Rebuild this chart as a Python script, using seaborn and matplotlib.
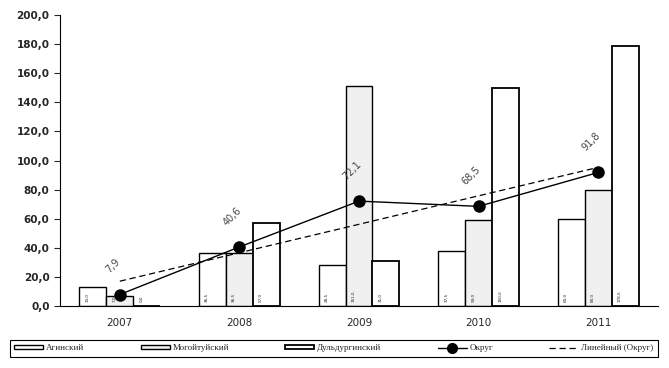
import numpy as np
import pandas as pd
import matplotlib
matplotlib.use("Agg")
import matplotlib.pyplot as plt
import seaborn as sns
from matplotlib.patches import Patch
from matplotlib.lines import Line2D
from matplotlib.ticker import FuncFormatter

years = ["2007", "2008", "2009", "2010", "2011"]
districts = ["Агинский", "Могойтуйский", "Дульдургинский"]
aginsky = [13.0, 36.5, 28.5, 37.5, 60.0]
mogoytuy = [7.0, 36.5, 151.0, 59.0, 80.0]
duldurga = [0.0, 57.0, 31.0, 150.0, 178.5]
okrug = [7.9, 40.6, 72.1, 68.5, 91.8]
okrug_labels = ["7,9", "40,6", "72,1", "68,5", "91,8"]

df = pd.DataFrame({
    "year": years * 3,
    "district": [d for d in districts for _ in years],
    "value": aginsky + mogoytuy + duldurga,
})

sns.set_style("white")
plt.rcParams["font.family"] = ["DejaVu Sans"]

fig = plt.figure(figsize=(6.69, 3.68), dpi=100)
ax = fig.add_axes([0.0897, 0.1685, 0.8939, 0.7905])

sns.barplot(data=df, x="year", y="value", hue="district", hue_order=districts,
            palette=["white", "#f0f0f0", "white"], edgecolor="black",
            linewidth=1.0, width=0.675, gap=0, legend=False, ax=ax)

# slightly heavier outline for the third series
for bar in ax.containers[2]:
    bar.set_linewidth(1.3)

# tiny value marks at bar bases (barely legible in the original)
for cont, vals in zip(ax.containers, [aginsky, mogoytuy, duldurga]):
    for bar, v in zip(cont, vals):
        x0 = bar.get_x() + bar.get_width() * 0.3
        ax.text(x0, 3, f"{v:.1f}".replace(".", ","), rotation=90, fontsize=3,
                ha="center", va="bottom", color="#222222")

x = np.arange(len(years))
ax.plot(x, okrug, color="black", lw=1.0, marker="o", markersize=8, zorder=5)
k, b = np.polyfit(x, okrug, 1)
ax.plot(x, k * x + b, color="black", lw=0.9, ls=(0, (5, 3)), zorder=4)

for xi, yi, lab in zip(x, okrug, okrug_labels):
    ax.annotate(lab, (xi, yi), xytext=(-5, 14), textcoords="offset points",
                rotation=45, fontsize=7, color="#444444", ha="center", va="bottom")

ax.set_xlim(-0.5, 4.5)
ax.set_ylim(0, 200)
ax.set_yticks(np.arange(0, 201, 20))
ax.yaxis.set_major_formatter(FuncFormatter(lambda v, p: f"{v:.1f}".replace(".", ",")))
for t in ax.get_yticklabels():
    t.set_fontweight("bold")
    t.set_fontsize(7.5)
ax.set_xticks(x)
ax.set_xticklabels(years, fontsize=7.5)
ax.set_xticks(np.arange(-0.5, 5, 1), minor=True)
ax.tick_params(axis="x", which="major", length=0, pad=9)
ax.tick_params(axis="x", which="minor", length=4, direction="out", width=0.8)
ax.tick_params(axis="y", length=4, direction="out", width=0.8, left=True)
ax.set_xlabel("")
ax.set_ylabel("")
sns.despine(ax=ax)
for s in ["left", "bottom"]:
    ax.spines[s].set_color("black")
    ax.spines[s].set_linewidth(0.8)

handles = [
    Patch(facecolor="white", edgecolor="black", lw=1.0),
    Patch(facecolor="#f0f0f0", edgecolor="black", lw=1.0),
    Patch(facecolor="white", edgecolor="black", lw=1.3),
    Line2D([0], [0], color="black", lw=1.0, marker="o", markersize=7),
    Line2D([0], [0], color="black", lw=0.9, ls=(0, (5, 3))),
]
labels = districts + ["Округ", "Линейный (Округ)"]
leg = fig.legend(handles, labels, loc="lower left", ncol=5, mode="expand",
                 bbox_to_anchor=(0.008, 0.018, 0.982, 0.068), frameon=True,
                 fancybox=False, edgecolor="black", framealpha=1,
                 handlelength=3.2, handleheight=0.4, handletextpad=0.3,
                 borderpad=0.5, prop={"family": "Liberation Serif", "size": 6.5})
leg.get_frame().set_linewidth(0.8)

fig.savefig("out.png", dpi=100)
